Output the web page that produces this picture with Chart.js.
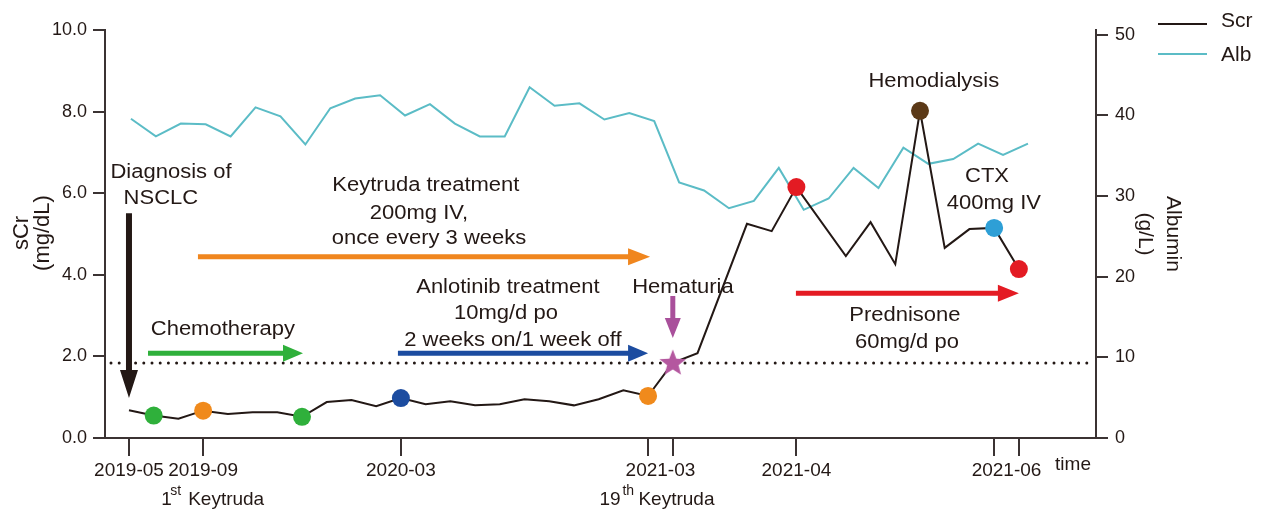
<!DOCTYPE html>
<html>
<head>
<meta charset="utf-8">
<script src="https://cdn.jsdelivr.net/npm/chart.js@4.4.1/dist/chart.umd.min.js"></script>
<style>
html,body{margin:0;padding:0;background:#fff;}
#wrap{width:1262px;height:513px;position:relative;}
</style>
</head>
<body>
<div id="wrap"><canvas id="c" width="1262" height="513"></canvas></div>
<script>
// ---- data ----
const scrX    = [0,1,2,3,4,5,6,7,8,9,10,11,12,13,14,15,16,17,18,19,20,21,22,23,25,26,27,29,30,31,32,33,34,35,36];
const scrVals = [0.68,0.55,0.47,0.67,0.59,0.63,0.63,0.52,0.88,0.93,0.78,0.98,0.83,0.90,0.80,0.83,0.95,0.90,0.80,0.95,1.17,1.03,1.84,2.08,5.25,5.07,6.15,4.46,5.29,4.26,8.02,4.66,5.12,5.15,4.14];
const albVals = [39.6,37.4,39.0,38.9,37.4,41.0,39.9,36.4,40.9,42.1,42.5,40.0,41.4,39.0,37.4,37.4,43.5,41.2,41.5,39.5,40.3,39.3,31.7,30.7,28.5,29.4,33.5,28.3,29.7,33.5,31.0,36.0,34.0,34.6,36.5,35.1,36.5];
const markerIdx = [1,3,7,11,21,22,27,32,35,36];
const xTickPos = [0,3,11,21,22,27,35,36];
const xLabelPos = [0,3,11,21.5,27,35.5];
const xLabels = ['2019-05','2019-09','2020-03','2021-03','2021-04','2021-06'];
const yLeftTicks = [0,2,4,6,8,10];
const yRightTicks = [0,10,20,30,40,50];
const scrThreshold = 1.84;

// ---- styles / layout ----
const INK = '#231815';
const CYAN = '#5bbcc6';
const FONT = '"Liberation Sans", Arial, Helvetica, sans-serif';
const markerColors = {1:'#2fb03b',3:'#f08a1c',7:'#2fb03b',11:'#1c4ca0',21:'#f08a1c',22:'star',27:'#e31b23',32:'#5b3917',35:'#2e9fd6',36:'#e31b23'};

const notes = [
  ['Diagnosis of', 1.70, 6.50],
  ['NSCLC', 1.29, 5.86],
  ['Keytruda treatment', 12.01, 6.20],
  ['200mg IV,', 11.73, 5.51],
  ['once every 3 weeks', 12.14, 4.90],
  ['Anlotinib treatment', 15.33, 3.70],
  ['10mg/d po', 15.25, 3.06],
  ['2 weeks on/1 week off', 15.53, 2.40],
  ['Chemotherapy', 3.80, 2.65],
  ['Hematuria', 22.41, 3.70],
  ['Hemodialysis', 32.56, 8.75],
  ['CTX', 34.71, 6.40],
  ['400mg IV', 34.99, 5.76],
  ['Prednisone', 31.39, 3.01],
  ['60mg/d po', 31.47, 2.35]
];
const arrows = [
  {x1:0, y1:5.51, x2:0, y2:0.98, color:INK, w:6, hl:28, hw:18},
  {x1:2.79, y1:4.44, x2:21.08, y2:4.44, color:'#f0861e', w:5, hl:22, hw:17},
  {x1:0.77, y1:2.08, x2:7.04, y2:2.08, color:'#2fb03b', w:5, hl:20, hw:17},
  {x1:10.88, y1:2.08, x2:21.0, y2:2.08, color:'#1c4ca0', w:5, hl:20, hw:17},
  {x1:26.98, y1:3.55, x2:36.0, y2:3.55, color:'#e41b23', w:5, hl:21, hw:17},
  {x1:22, y1:3.48, x2:22, y2:2.45, color:'#a9509b', w:5, hl:20, hw:16}
];

// star image for the hematuria point
const starCv = document.createElement('canvas');
starCv.width = 30; starCv.height = 30;
(function(){
  const g = starCv.getContext('2d');
  g.beginPath();
  for (let k=0;k<10;k++){
    const r = k%2===0 ? 14 : 6;
    const a = -Math.PI/2 + k*Math.PI/5;
    const px = 15 + r*Math.cos(a), py = 15.5 + r*Math.sin(a);
    if(k===0) g.moveTo(px,py); else g.lineTo(px,py);
  }
  g.closePath();
  g.fillStyle = '#b4579f';
  g.fill();
})();

const scrData = scrX.map((x,i)=>({x:x, y:scrVals[i]}));
const albData = albVals.map((v,i)=>({x:i*1.008+0.08, y:v}));
const markerData = markerIdx.map(i=>({x:i, y:scrVals[scrX.indexOf(i)]}));

function stext(ctx, txt, x, y, size, sx, align){
  ctx.save();
  ctx.translate(x,y);
  ctx.scale(sx||1,1);
  ctx.font = size+'px '+FONT;
  ctx.textAlign = align||'center';
  ctx.textBaseline = 'middle';
  ctx.fillStyle = INK;
  ctx.fillText(txt,0,0);
  ctx.restore();
}
function drawArrow(ctx,x1,y1,x2,y2,color,w,hl,hw){
  const dx=x2-x1, dy=y2-y1, L=Math.hypot(dx,dy);
  const ux=dx/L, uy=dy/L, nx=-uy, ny=ux;
  const bx=x2-ux*hl, by=y2-uy*hl;
  ctx.save();
  ctx.fillStyle=color;
  ctx.beginPath();
  ctx.moveTo(x1+nx*w/2,y1+ny*w/2);
  ctx.lineTo(bx+nx*w/2,by+ny*w/2);
  ctx.lineTo(bx+nx*hw/2,by+ny*hw/2);
  ctx.lineTo(x2,y2);
  ctx.lineTo(bx-nx*hw/2,by-ny*hw/2);
  ctx.lineTo(bx-nx*w/2,by-ny*w/2);
  ctx.lineTo(x1-nx*w/2,y1-ny*w/2);
  ctx.closePath();
  ctx.fill();
  ctx.restore();
}

const decor = {
  id:'decor',
  beforeDatasetsDraw(chart){
    const ctx=chart.ctx, xs=chart.scales.x, ys=chart.scales.y, a=chart.chartArea;
    const yy = ys.getPixelForValue(scrThreshold);
    ctx.save();
    ctx.strokeStyle=INK; ctx.lineWidth=3; ctx.lineCap='round';
    ctx.setLineDash([0,8.2]);
    ctx.beginPath(); ctx.moveTo(a.left+6,yy); ctx.lineTo(a.right-2,yy); ctx.stroke();
    ctx.restore();
    arrows.forEach(ar=>{
      drawArrow(ctx, xs.getPixelForValue(ar.x1), ys.getPixelForValue(ar.y1),
        xs.getPixelForValue(ar.x2), ys.getPixelForValue(ar.y2), ar.color, ar.w, ar.hl, ar.hw);
    });
    notes.forEach(n=>stext(ctx,n[0],xs.getPixelForValue(n[1]),ys.getPixelForValue(n[2]),20,1.1));
  },
  afterDraw(chart){
    const ctx=chart.ctx, xs=chart.scales.x, a=chart.chartArea;
    // x labels
    xLabelPos.forEach((p,i)=>stext(ctx,xLabels[i],xs.getPixelForValue(p),a.bottom+33,19,1));
    // 1st Keytruda
    const k1 = xs.getPixelForValue(3);
    stext(ctx,'1',k1-42,a.bottom+62,19,1,'left');
    stext(ctx,'st',k1-33,a.bottom+53,14,1,'left');
    stext(ctx,'Keytruda',k1-15,a.bottom+62,19,1,'left');
    const k19 = xs.getPixelForValue(21.5);
    stext(ctx,'19',k19-61,a.bottom+62,19,1,'left');
    stext(ctx,'th',k19-38,a.bottom+53,14,1,'left');
    stext(ctx,'Keytruda',k19-22,a.bottom+62,19,1,'left');
    stext(ctx,'time',a.right-23,a.bottom+27,19,1);
    // axis titles
    ctx.save(); ctx.translate(a.left-83,233); ctx.rotate(-Math.PI/2);
    stext(ctx,'sCr',0,0,22,1); ctx.restore();
    ctx.save(); ctx.translate(a.left-62,233); ctx.rotate(-Math.PI/2);
    stext(ctx,'(mg/dL)',0,0,22,1); ctx.restore();
    ctx.save(); ctx.translate(a.right+77,234); ctx.rotate(Math.PI/2);
    stext(ctx,'Albumin',0,0,21,1); ctx.restore();
    ctx.save(); ctx.translate(a.right+49,234); ctx.rotate(Math.PI/2);
    stext(ctx,'(g/L)',0,0,21,1); ctx.restore();
    // legend
    ctx.save();
    ctx.lineWidth=2;
    ctx.strokeStyle=INK; ctx.beginPath(); ctx.moveTo(a.right+62,24); ctx.lineTo(a.right+111,24); ctx.stroke();
    ctx.strokeStyle=CYAN; ctx.beginPath(); ctx.moveTo(a.right+62,54); ctx.lineTo(a.right+111,54); ctx.stroke();
    ctx.restore();
    stext(ctx,'Scr',a.right+125,21,21,1,'left');
    stext(ctx,'Alb',a.right+125,55,21,1,'left');
  }
};

new Chart(document.getElementById('c'), {
  type:'scatter',
  data:{
    datasets:[
      {label:'markers', data:markerData, yAxisID:'y', order:0, showLine:false,
       pointRadius:9, pointHoverRadius:9, borderWidth:0,
       pointBackgroundColor: markerIdx.map(i=>markerColors[i]==='star'?'#b4579f':markerColors[i]),
       pointBorderColor: 'rgba(0,0,0,0)',
       pointStyle: markerIdx.map(i=>markerColors[i]==='star'?starCv:'circle')},
      {label:'Scr', data:scrData, yAxisID:'y', order:1, showLine:true, borderColor:INK, borderWidth:2, pointRadius:0, tension:0},
      {label:'Alb', data:albData, yAxisID:'y2', order:2, showLine:true, borderColor:CYAN, borderWidth:2, pointRadius:0, tension:0}
    ]
  },
  options:{
    responsive:false, animation:false, events:[],
    layout:{padding:{top:30,left:0,right:0,bottom:0}},
    plugins:{legend:{display:false}, tooltip:{enabled:false}},
    scales:{
      x:{type:'linear', position:'bottom', min:-0.97, max:39.12,
         afterBuildTicks(s){ s.ticks = xTickPos.map(v=>({value:v})); },
         afterFit(s){ s.height = 75; },
         ticks:{autoSkip:false, maxRotation:0, callback:()=>'' , font:{size:19,family:FONT}},
         grid:{display:true, drawOnChartArea:false, drawTicks:true, tickLength:18, lineWidth:2, color:'#3b3333'},
         border:{display:true, width:2, color:'#3b3333'}},
      y:{type:'linear', position:'left', min:0, max:10,
         afterBuildTicks(s){ s.ticks = yLeftTicks.map(v=>({value:v})); },
         afterFit(s){ s.width = 105; },
         ticks:{callback:v=>Number(v).toFixed(1), color:INK, padding:6, font:{size:18,family:FONT}},
         grid:{display:true, drawOnChartArea:false, drawTicks:true, tickLength:12, lineWidth:2, color:'#3b3333'},
         border:{display:true, width:2, color:'#3b3333'}},
      y2:{type:'linear', position:'right', min:0, max:50.6,
         afterBuildTicks(s){ s.ticks = yRightTicks.map(v=>({value:v})); },
         afterFit(s){ s.width = 166; },
         ticks:{callback:v=>String(v), color:INK, padding:7, font:{size:18,family:FONT}},
         grid:{display:true, drawOnChartArea:false, drawTicks:true, tickLength:12, lineWidth:2, color:'#3b3333'},
         border:{display:true, width:2, color:'#3b3333'}}
    }
  },
  plugins:[decor]
});
</script>
</body>
</html>
